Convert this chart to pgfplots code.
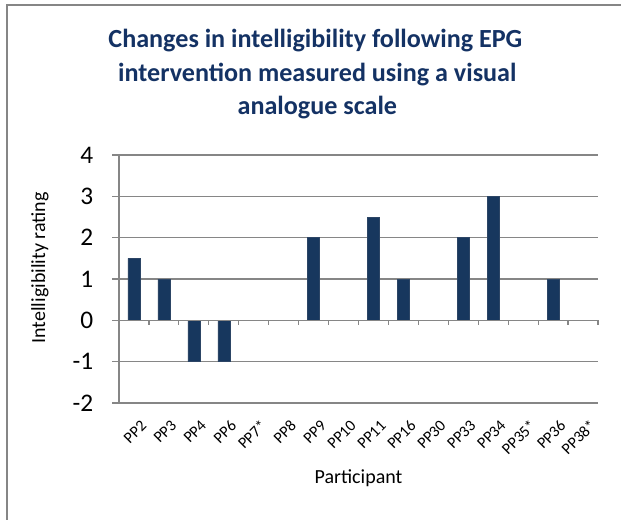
\documentclass[border=0pt]{standalone}
\usepackage{fontspec}
\setmainfont{Carlito}
\usepackage{pgfplots}
\pgfplotsset{compat=1.18}

\definecolor{barblue}{RGB}{23,55,94}
\definecolor{titleblue}{RGB}{20,50,100}
\definecolor{axgray}{RGB}{134,134,134}

\begin{document}
\begin{tikzpicture}
% page = 621 x 520 px, 1px = 0.75pt
\path[use as bounding box] (0,0) rectangle (465.75pt,-390pt);
% chart frame (cropped: only top and left edges visible)
\draw[axgray, line width=1.5pt] (5.25pt,-390pt) -- (5.25pt,-3.75pt) -- (465.75pt,-3.75pt);

\node[anchor=base, font=\fontsize{19.6}{22}\selectfont\bfseries, text=titleblue] at (236.5pt,-36pt) {Changes in intelligibility following EPG};
\node[anchor=base, font=\fontsize{19.6}{22}\selectfont\bfseries, text=titleblue] at (238pt,-61.5pt) {intervention measured using a visual};
\node[anchor=base, font=\fontsize{19.6}{22}\selectfont\bfseries, text=titleblue] at (238pt,-86.25pt) {analogue scale};

\begin{axis}[
    at={(89.25pt,-302.25pt)}, anchor=south west,
    width=359.25pt, height=186pt, scale only axis,
    ybar, bar width=0.4,
    xmin=0.5, xmax=16.5,
    ymin=-2, ymax=4,
    ytick={-2,-1,0,1,2,3,4},
    xtick={1,...,16},
    xticklabels={PP2,PP3,PP4,PP6,PP7*,PP8,PP9,PP10,PP11,PP16,PP30,PP33,PP34,PP35*,PP36,PP38*},
    axis x line*=bottom,
    axis y line*=left,
    x axis line style={draw=none},
    y axis line style={axgray, line width=0.9pt, -},
    xtick style={draw=none},
    ymajorgrids,
    grid style={axgray, line width=0.9pt},
    ytick style={axgray, line width=0.9pt},
    tick align=outside,
    major tick length=5.25pt,
    /pgf/number format/assume math mode=true,
    yticklabel style={font=\fontsize{19}{22}\selectfont, xshift=-10.5pt},
    xticklabel style={font=\fontsize{12}{14}\selectfont, rotate=45, anchor=east, inner sep=0pt, xshift=-1.5pt, yshift=-12pt},
    ylabel={Intelligibility rating},
    ylabel style={font=\fontsize{15}{18}\selectfont, at={(axis description cs:-0.165,0.545)}, anchor=center},
    xlabel={Participant},
    xlabel style={font=\fontsize{15}{18}\selectfont, at={(axis description cs:0.5,-0.302)}, anchor=center},
    clip=false,
]
\addplot[fill=barblue, draw=barblue!80!gray, line width=0.4pt] coordinates {
    (1,1.5) (2,1) (3,-1) (4,-1) (5,0) (6,0) (7,2) (8,0)
    (9,2.5) (10,1) (11,0) (12,2) (13,3) (14,0) (15,1) (16,0)
};
\draw[axgray, line width=0.9pt] (axis cs:0.5,0) -- (axis cs:16.5,0);
\pgfplotsinvokeforeach{0,...,16}{
  \draw[axgray, line width=0.9pt] (axis cs:#1.5,0) -- ++(0pt,-3.75pt);
}
\end{axis}
\end{tikzpicture}
\end{document}
